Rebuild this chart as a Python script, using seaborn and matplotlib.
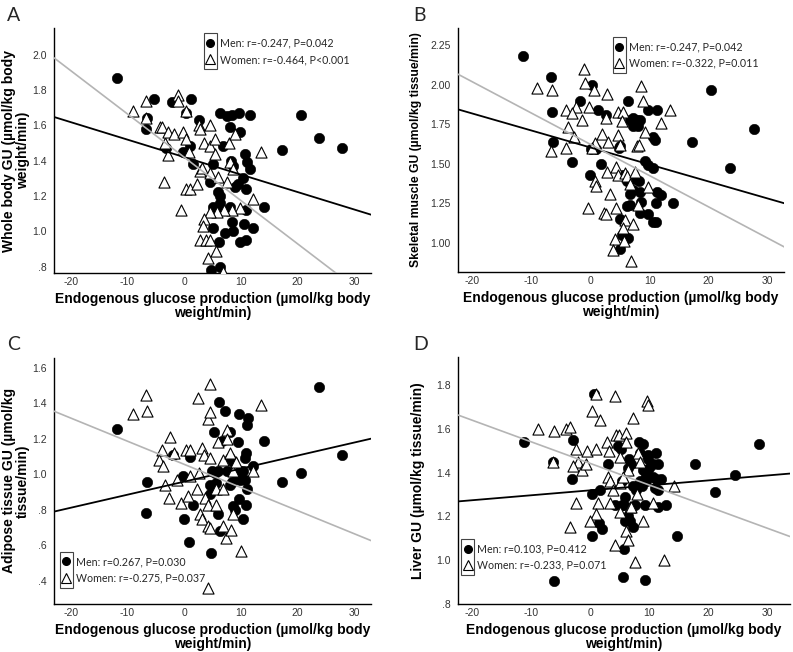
import matplotlib
matplotlib.use("Agg")
import matplotlib.pyplot as plt
import matplotlib.ticker as ticker
from matplotlib.lines import Line2D
from matplotlib.patches import Rectangle
import seaborn as sns

# ---- data (EGP on x, tissue GU on y) ----
a_men_x = [-11.8, -5.3, -2.1, 1.2, -6.6, -6.8, 0.4, 2.6, 6.3, 7.6, 8.5, 9.7, 8.0, 11.6, 9.9, -3.3, -0.3, 1.0,
           1.5, 4.5, 5.1, 6.8, 8.3, 8.6, 10.7, 11.0, 11.6, 10.4, 9.5, 8.9, 10.9, 6.0, 6.3, 5.1, 6.3, 6.6, 8.1,
           10.9, 14.1, 5.1, 7.2, 8.6, 8.5, 10.6, 12.2, 9.8, 10.9, 6.2, 4.8, 6.3, 17.3, 20.6, 23.8, 27.8]
a_men_y = [1.87, 1.75, 1.73, 1.75, 1.64, 1.58, 1.67, 1.63, 1.67, 1.65, 1.66, 1.67, 1.59, 1.66, 1.56, 1.47, 1.45,
           1.48, 1.38, 1.28, 1.38, 1.48, 1.40, 1.37, 1.44, 1.39, 1.35, 1.30, 1.27, 1.25, 1.24, 1.22, 1.20, 1.14,
           1.16, 1.12, 1.14, 1.12, 1.14, 1.02, 0.99, 1.00, 1.05, 1.04, 1.02, 0.94, 0.95, 0.94, 0.78, 0.80, 1.46,
           1.66, 1.53, 1.47]
a_women_x = [-9.1, -6.8, -6.8, -4.3, -3.9, -3.4, -2.8, -1.8, -2.8, -3.5, -1.1, -1.1, 0.4, -0.3, 0.3, 0.8, -0.5,
             0.4, 1.1, 2.2, 2.6, 2.8, 4.5, 3.5, 4.6, 5.4, 5.4, 2.8, 3.2, 4.5, 6.0, 7.5, 7.9, 8.9, 8.1, 8.6, 13.5,
             12.1, 9.9, 8.4, 7.0, 5.8, 4.5, 3.5, 3.4, 2.8, 3.8, 4.6, 5.6, 4.2, 6.8]
a_women_y = [1.68, 1.74, 1.64, 1.59, 1.59, 1.50, 1.56, 1.55, 1.43, 1.28, 1.77, 1.74, 1.68, 1.56, 1.52, 1.45, 1.12,
             1.24, 1.24, 1.27, 1.60, 1.58, 1.60, 1.50, 1.48, 1.52, 1.44, 1.34, 1.36, 1.33, 1.31, 1.28, 1.50, 1.55,
             1.39, 1.35, 1.45, 1.18, 1.13, 1.12, 1.12, 1.11, 1.11, 1.07, 1.03, 0.95, 0.95, 0.95, 0.89, 0.85, 0.77]

b_men_x = [-11.4, -6.7, -6.5, -6.4, -3.1, -1.8, 0.3, 1.2, 2.6, 0.1, 1.0, 1.7, 0.0, 6.3, 6.7, 7.2, 7.8, 8.4, 7.2,
           8.0, 9.8, 11.3, 10.6, 10.9, 9.2, 9.8, 10.6, 5.0, 4.8, 5.5, 6.1, 7.5, 8.2, 6.7, 7.2, 8.4, 11.3, 12.0,
           13.9, 11.1, 6.1, 6.7, 8.5, 8.4, 9.8, 10.6, 11.1, 5.0, 5.3, 6.4, 5.0, 17.1, 20.4, 23.6, 27.7]
b_men_y = [2.18, 2.05, 1.83, 1.64, 1.51, 1.90, 2.00, 1.84, 1.81, 1.59, 1.59, 1.50, 1.43, 1.90, 1.78, 1.79, 1.78,
           1.78, 1.74, 1.74, 1.84, 1.84, 1.67, 1.65, 1.52, 1.49, 1.47, 1.61, 1.60, 1.43, 1.39, 1.40, 1.39, 1.31,
           1.33, 1.32, 1.32, 1.30, 1.25, 1.25, 1.23, 1.24, 1.26, 1.19, 1.18, 1.13, 1.13, 1.15, 1.05, 1.03, 0.96,
           1.64, 1.97, 1.47, 1.72]
b_women_x = [-9.0, -6.5, -6.6, -4.1, -2.5, -3.2, -3.8, -2.8, -4.2, -1.5, -1.1, -0.9, 0.6, -0.2, 0.7, 0.3, 0.7,
             1.0, -0.4, 2.8, 2.7, 2.0, 3.0, 2.8, 3.3, 2.3, 2.7, 4.7, 5.5, 5.3, 4.7, 5.0, 4.4, 4.7, 5.8, 6.1, 6.7,
             7.5, 7.8, 8.2, 8.5, 8.9, 9.2, 9.8, 11.9, 13.4, 8.1, 4.4, 5.8, 5.5, 7.2, 4.1, 3.8, 5.6, 6.8]
b_women_y = [1.98, 1.97, 1.58, 1.84, 1.86, 1.82, 1.73, 1.67, 1.60, 1.78, 2.10, 2.01, 1.97, 1.86, 1.63, 1.60, 1.39,
             1.36, 1.22, 1.94, 1.79, 1.69, 1.64, 1.45, 1.31, 1.19, 1.18, 1.83, 1.83, 1.77, 1.68, 1.62, 1.48, 1.43,
             1.44, 1.42, 1.37, 1.45, 1.61, 1.62, 1.99, 1.90, 1.70, 1.35, 1.76, 1.84, 1.24, 1.22, 1.14, 1.09, 1.12,
             1.02, 0.95, 1.01, 0.88]

c_men_x = [-11.8, -6.6, -6.8, -1.9, -0.3, 0.0, 1.1, 1.5, 0.9, 4.8, 5.3, 6.2, 7.2, 6.0, 5.5, 4.9, 5.7, 6.0, 6.3,
           6.6, 8.1, 9.6, 11.3, 11.0, 9.5, 10.9, 10.7, 8.1, 8.6, 9.8, 10.4, 12.2, 14.1, 7.5, 8.4, 8.1, 9.4, 9.8,
           10.7, 11.1, 9.7, 10.9, 8.6, 8.9, 10.3, 17.3, 20.6, 23.8, 27.8, 5.1, 4.5, 4.6]
c_men_y = [1.255, 0.96, 0.785, 1.11, 0.99, 0.75, 1.10, 0.83, 0.62, 0.56, 1.24, 1.41, 1.36, 1.02, 1.01, 1.02, 0.95,
           0.78, 0.68, 1.19, 1.24, 1.34, 1.32, 1.28, 1.18, 1.12, 1.09, 1.09, 1.07, 1.02, 1.02, 1.05, 1.19, 1.02,
           0.96, 0.94, 0.98, 0.97, 0.97, 0.92, 0.86, 0.83, 0.82, 0.80, 0.75, 0.96, 1.01, 1.49, 1.11, 0.92, 0.94,
           0.89]
c_women_x = [-9.1, -6.8, -6.5, -3.9, -4.4, -3.8, -3.4, -2.6, -2.5, -1.8, -1.2, -0.5, 0.3, 0.6, 1.0, 1.1, 2.2, 2.7,
             2.5, 2.8, 3.1, 3.2, 3.5, 3.6, 4.2, 4.2, 4.5, 4.5, 4.5, 4.2, 4.5, 4.2, 5.6, 5.7, 6.0, 6.8, 6.8, 6.9,
             7.6, 7.5, 8.1, 8.6, 9.1, 8.6, 7.4, 8.2, 10.1, 12.1, 13.5]
c_women_y = [1.34, 1.45, 1.36, 1.14, 1.08, 1.05, 0.94, 0.87, 1.21, 1.12, 0.97, 0.84, 1.14, 0.88, 1.14, 0.99, 0.92,
             1.01, 1.43, 0.78, 0.75, 1.15, 1.11, 0.87, 0.83, 1.31, 1.35, 1.51, 1.09, 0.71, 0.70, 0.36, 0.83, 0.92,
             1.18, 1.08, 0.92, 0.71, 1.25, 1.20, 1.12, 1.02, 1.07, 0.78, 0.64, 0.69, 0.57, 1.02, 1.39]

d_men_x = [-11.2, -6.3, -6.2, -2.9, -3.1, 0.2, 0.3, 0.7, 1.5, 1.7, 2.0, 3.0, 4.7, 5.2, 5.4, 5.3, 5.7, 5.8, 5.8,
           6.7, 6.4, 7.2, 7.5, 6.5, 6.9, 6.3, 8.2, 8.9, 8.4, 9.8, 9.8, 11.2, 8.9, 9.5, 10.0, 10.6, 11.4, 9.2, 9.5,
           10.6, 11.2, 12.0, 8.4, 8.7, 10.9, 11.5, 11.5, 12.9, 9.2, 7.2, 7.7, 4.1, 5.7, 5.5, 9.2, 14.7, 17.8,
           21.1, 24.5, 28.5]
d_men_y = [1.54, 1.45, 0.905, 1.55, 1.37, 1.30, 1.11, 1.76, 1.17, 1.32, 1.14, 1.44, 1.52, 1.51, 1.36, 1.25, 1.25,
           1.29, 1.18, 1.18, 1.20, 1.15, 1.25, 1.46, 1.44, 1.42, 1.54, 1.53, 1.49, 1.48, 1.46, 1.49, 1.41, 1.40,
           1.42, 1.44, 1.44, 1.37, 1.36, 1.38, 1.37, 1.37, 1.36, 1.34, 1.33, 1.32, 1.24, 1.25, 1.25, 1.34, 1.32,
           1.25, 1.05, 0.92, 0.91, 1.11, 1.44, 1.31, 1.39, 1.53]
d_women_x = [-8.9, -6.2, -6.3, -4.1, -3.4, -2.5, -2.1, -2.9, -1.4, -0.8, -0.6, -3.5, -2.4, 0.2, 0.9, 1.0, 1.6,
             1.3, 1.0, -0.1, 2.9, 3.2, 3.0, 3.4, 3.3, 3.8, 4.1, 4.3, 4.9, 5.0, 5.0, 5.0, 6.0, 6.1, 6.3, 6.1, 6.3,
             4.1, 6.7, 7.3, 7.9, 8.1, 8.4, 7.5, 8.9, 9.6, 9.8, 10.7, 12.4, 14.1, 5.5, 6.9]
d_women_y = [1.60, 1.59, 1.45, 1.60, 1.61, 1.51, 1.45, 1.43, 1.41, 1.44, 1.50, 1.15, 1.26, 1.68, 1.76, 1.51, 1.64,
             1.26, 1.21, 1.18, 1.54, 1.50, 1.38, 1.36, 1.26, 1.32, 1.75, 1.57, 1.57, 1.47, 1.35, 1.22, 1.58, 1.54,
             1.41, 1.13, 1.09, 1.07, 1.24, 1.65, 1.30, 1.49, 1.45, 0.99, 1.18, 1.73, 1.71, 1.26, 1.00, 1.34, 1.38,
             1.24]

panel_letters = ["A", "B", "C", "D"]
y_labels = ["Whole body GU (µmol/kg body\nweight/min)",
            "Skeletal muscle GU (µmol/kg tissue/min)",
            "Adipose tissue GU (µmol/kg\ntissue/min)",
            "Liver GU (µmol/kg tissue/min)"]
x_label = "Endogenous glucose production (µmol/kg body\nweight/min)"
men_labels = ["Men: r=-0.247, P=0.042", "Men: r=-0.247, P=0.042",
              "Men: r=0.267, P=0.030", "Men: r=0.103, P=0.412"]
women_labels = ["Women: r=-0.464, P<0.001", "Women: r=-0.322, P=0.011",
                "Women: r=-0.275, P=0.037", "Women: r=-0.233, P=0.071"]
x_ticks = [-20, -10, 0, 10, 20, 30]
a_yticks = [0.8, 1.0, 1.2, 1.4, 1.6, 1.8, 2.0]
a_yticklabels = [".8", "1.0", "1.2", "1.4", "1.6", "1.8", "2.0"]
b_yticks = [1.00, 1.25, 1.50, 1.75, 2.00, 2.25]
b_yticklabels = ["1.00", "1.25", "1.50", "1.75", "2.00", "2.25"]
c_yticks = [0.4, 0.6, 0.8, 1.0, 1.2, 1.4, 1.6]
c_yticklabels = [".4", ".6", ".8", "1.0", "1.2", "1.4", "1.6"]
d_yticks = [0.8, 1.0, 1.2, 1.4, 1.6, 1.8]
d_yticklabels = [".8", "1.0", "1.2", "1.4", "1.6", "1.8"]

sns.set_theme(style="white")
plt.rcParams['font.family'] = ['Liberation Sans', 'DejaVu Sans']
plt.rcParams['axes.unicode_minus'] = False

fig = plt.figure(figsize=(7.93, 6.52), dpi=100)

LEG_FS = 7.7

specs = [
    dict(rect=[0.068, 0.581, 0.400, 0.376], xlim=(-23, 33), ylim=(0.763, 2.15),
         men=(a_men_x, a_men_y), women=(a_women_x, a_women_y), yt=(a_yticks, a_yticklabels),
         leg=(0.463, 0.978), letter=(0.009, 0.99), ylab_fs=10, ylab_pad=1.5),
    dict(rect=[0.577, 0.583, 0.412, 0.374], xlim=(-22.5, 32.8), ylim=(0.814, 2.36),
         men=(b_men_x, b_men_y), women=(b_women_x, b_women_y), yt=(b_yticks, b_yticklabels),
         leg=(0.466, 0.963), letter=(0.521, 0.99), ylab_fs=8.7, ylab_pad=6),
    dict(rect=[0.068, 0.074, 0.400, 0.377], xlim=(-23, 33), ylim=(0.272, 1.656),
         men=(c_men_x, c_men_y), women=(c_women_x, c_women_y), yt=(c_yticks, c_yticklabels),
         leg=(0.0085, 0.211), letter=(0.009, 0.485), ylab_fs=10, ylab_pad=1.5),
    dict(rect=[0.577, 0.074, 0.419, 0.378], xlim=(-22.5, 33.8), ylim=(0.799, 1.928),
         men=(d_men_x, d_men_y), women=(d_women_x, d_women_y), yt=(d_yticks, d_yticklabels),
         leg=(0.001, 0.262), letter=(0.521, 0.485), ylab_fs=10, ylab_pad=8),
]

legends = []
for i, sp in enumerate(specs):
    ax = fig.add_axes(sp["rect"])
    mx, my = sp["men"]
    wx, wy = sp["women"]
    sns.scatterplot(x=mx, y=my, marker="o", color="black", edgecolor="black", s=56, linewidth=0.4, ax=ax, zorder=3)
    sns.scatterplot(x=wx, y=wy, marker="^", facecolor="white", edgecolor="black", s=64, linewidth=0.8, ax=ax,
                    zorder=3)
    ax.set_xlim(*sp["xlim"])
    ax.set_ylim(*sp["ylim"])
    # least-squares fit lines spanning the whole x range
    sns.regplot(x=mx, y=my, scatter=False, ci=None, truncate=False, color="black",
                line_kws=dict(lw=1.3, zorder=4), ax=ax)
    sns.regplot(x=wx, y=wy, scatter=False, ci=None, truncate=False, color="#b4b4b4",
                line_kws=dict(lw=1.2, zorder=4), ax=ax)
    ax.set_xlim(*sp["xlim"])
    ax.set_ylim(*sp["ylim"])

    ax.xaxis.set_major_locator(ticker.FixedLocator(x_ticks))
    ax.yaxis.set_major_locator(ticker.FixedLocator(sp["yt"][0]))
    ax.yaxis.set_major_formatter(ticker.FixedFormatter(sp["yt"][1]))
    ax.tick_params(axis="both", length=0, labelsize=7.5, colors="#333333")
    ax.tick_params(axis="y", pad=5)
    ax.tick_params(axis="x", pad=3)
    for side in ["top", "right"]:
        ax.spines[side].set_visible(False)
    for side in ["left", "bottom"]:
        ax.spines[side].set_color("black")
        ax.spines[side].set_linewidth(1.0)

    ax.set_xlabel(x_label, fontsize=10, fontweight="bold", color="black", linespacing=1.0, labelpad=3.5)
    ax.set_ylabel(y_labels[i], fontsize=sp["ylab_fs"], fontweight="bold", color="black", linespacing=1.0,
                  labelpad=sp["ylab_pad"])

    handles = [Line2D([], [], marker="o", color="black", linestyle="none", markersize=5.5),
               Line2D([], [], marker="^", markerfacecolor="white", markeredgecolor="black",
                      linestyle="none", markersize=6.5, markeredgewidth=0.8)]
    leg = ax.legend(handles, [men_labels[i], women_labels[i]], loc="upper left", bbox_to_anchor=sp["leg"],
                    frameon=False, handlelength=1.0, handletextpad=0.4, borderpad=0.4, labelspacing=0.5,
                    borderaxespad=0, prop=dict(family="Lato", size=LEG_FS))
    legends.append(leg)

    fig.text(sp["letter"][0], sp["letter"][1], panel_letters[i], fontsize=14, family="Lato", va="top", ha="left")

# thin box around the legend markers only (as in the original)
fig.canvas.draw()
inv = fig.transFigure.inverted()
for leg in legends:
    bb = leg.get_window_extent()
    tx0 = leg.get_texts()[0].get_window_extent().x0
    x1 = tx0 - 3
    x0 = x1 - 13
    (fx0, fy0) = inv.transform((x0, bb.y0))
    (fx1, fy1) = inv.transform((x1, bb.y1))
    fig.add_artist(Rectangle((fx0, fy0), fx1 - fx0, fy1 - fy0, transform=fig.transFigure,
                             fill=False, edgecolor="#444444", linewidth=0.8))

fig.savefig("out.png", dpi=100)
